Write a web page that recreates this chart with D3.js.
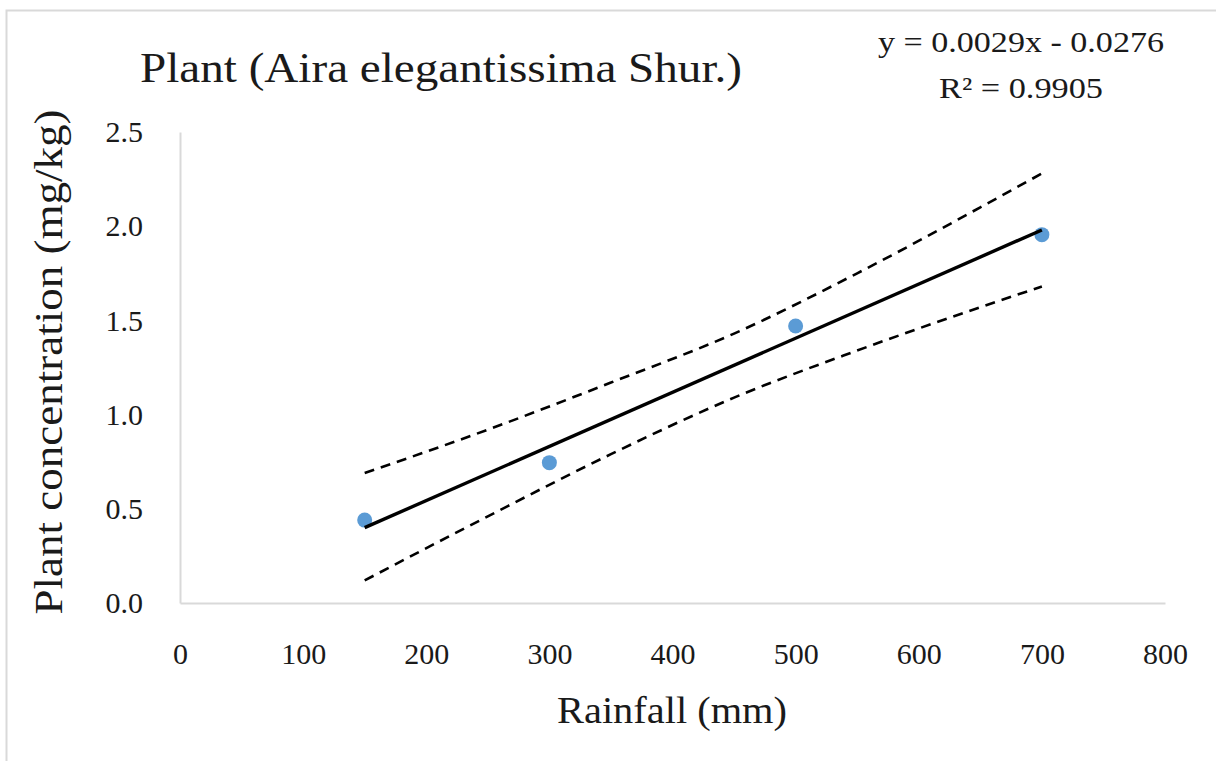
<!DOCTYPE html>
<html>
<head>
<meta charset="utf-8">
<script src="https://cdn.jsdelivr.net/npm/d3@7"></script>
<style>
  body { margin: 0; background: #fff; }
</style>
</head>
<body>
<div id="chart"></div>
<script>
    // datos
    var rainfall = [150, 300, 500, 700];
    var concentration = [0.44, 0.745, 1.47, 1.955];

    // recta de tendencia (extremos)
    var trendX = [150, 700];
    var trendY = [0.40, 1.98];

    // bandas de confianza (discontinuas)
    var bandX = [150, 250, 350, 450, 550, 650, 700];
    var bandUpper = [0.69, 0.92, 1.17, 1.43, 1.75, 2.10, 2.28];
    var bandLower = [0.12, 0.46, 0.79, 1.09, 1.34, 1.57, 1.68];

    var xTicks = [0, 100, 200, 300, 400, 500, 600, 700, 800];
    var yTicks = [0, 0.5, 1.0, 1.5, 2.0, 2.5];

    var title = "Plant (Aira elegantissima Shur.)";
    var xTitle = "Rainfall (mm)";
    var yTitle = "Plant concentration (mg/kg)";
    var eqLines = ["y = 0.0029x - 0.0276", "R\u00B2 = 0.9905"];

    var serif = "'Liberation Serif', 'DejaVu Serif', serif";
    var ink = "#1a1a1a";
    var width = 1216, height = 761;

    var svg = d3.select("#chart")
      .append("svg")
        .attr("width", width)
        .attr("height", height);

    // borde del area del grafico
    svg.append("rect")
      .attr("x", 6.5).attr("y", 10.5)
      .attr("width", width + 20).attr("height", height + 20)
      .attr("fill", "none")
      .attr("stroke", "#d9d9d9")
      .attr("stroke-width", 2);

    var x = d3.scaleLinear().domain([0, 800]).range([180, 1165]);
    var y = d3.scaleLinear().domain([0, 2.5]).range([603, 132]);

    // ejes (solo lineas grises, sin marcas)
    var xAxis = svg.append("g")
      .attr("transform", "translate(0," + y(0) + ")")
      .call(d3.axisBottom(x).tickValues(xTicks).tickSize(0).tickPadding(0).tickFormat(d3.format("d")));
    var yAxis = svg.append("g")
      .attr("transform", "translate(" + x(0) + ",0)")
      .call(d3.axisLeft(y).tickValues(yTicks).tickSize(0).tickPadding(0).tickFormat(d3.format(".1f")));

    [xAxis, yAxis].forEach(function(a) {
      a.attr("font-family", serif).attr("font-size", 30);
      a.select(".domain").attr("stroke", "#d9d9d9").attr("stroke-width", 2);
      a.selectAll("text").attr("fill", ink);
    });
    xAxis.selectAll(".tick text").attr("y", 61).attr("dy", 0);
    yAxis.selectAll(".tick text").attr("x", -37).attr("dy", "0.32em");

    // puntos
    svg.append("g").selectAll("circle")
      .data(rainfall)
      .enter().append("circle")
        .attr("cx", function(d) { return x(d); })
        .attr("cy", function(d, i) { return y(concentration[i]); })
        .attr("r", 7.5)
        .attr("fill", "#5b9bd5");

    // bandas
    var band = d3.line()
      .x(function(d, i) { return x(bandX[i]); })
      .y(function(d) { return y(d); })
      .curve(d3.curveMonotoneX);

    [bandUpper, bandLower].forEach(function(b) {
      svg.append("path")
        .datum(b)
        .attr("fill", "none")
        .attr("stroke", "#000")
        .attr("stroke-width", 2.6)
        .attr("stroke-dasharray", "10,7")
        .attr("d", band);
    });

    // linea de tendencia
    svg.append("path")
      .datum(trendY)
      .attr("fill", "none")
      .attr("stroke", "#000")
      .attr("stroke-width", 3.4)
      .attr("d", d3.line()
        .x(function(d, i) { return x(trendX[i]); })
        .y(function(d) { return y(d); }));

    // titulo
    svg.append("text")
      .attr("x", 441).attr("y", 82)
      .attr("text-anchor", "middle")
      .attr("font-family", serif)
      .attr("font-size", 42)
      .attr("fill", ink)
      .attr("textLength", 602)
      .attr("lengthAdjust", "spacingAndGlyphs")
      .text(title);

    // ecuacion
    svg.selectAll(".eq")
      .data(eqLines)
      .enter().append("text")
        .attr("class", "eq")
        .attr("x", 1021)
        .attr("y", function(d, i) { return 52 + i * 46; })
        .attr("text-anchor", "middle")
        .attr("font-family", serif)
        .attr("font-size", 30)
        .attr("fill", ink)
        .attr("textLength", function(d, i) { return i === 0 ? 286 : 164; })
        .attr("lengthAdjust", "spacingAndGlyphs")
        .text(function(d) { return d; });

    // titulos de los ejes
    svg.append("text")
      .attr("x", 672).attr("y", 723)
      .attr("text-anchor", "middle")
      .attr("font-family", serif)
      .attr("font-size", 38)
      .attr("fill", ink)
      .attr("textLength", 230)
      .attr("lengthAdjust", "spacingAndGlyphs")
      .text(xTitle);

    svg.append("text")
      .attr("transform", "translate(62,362) rotate(-90)")
      .attr("text-anchor", "middle")
      .attr("font-family", serif)
      .attr("font-size", 40)
      .attr("fill", ink)
      .attr("textLength", 505)
      .attr("lengthAdjust", "spacingAndGlyphs")
      .text(yTitle);
</script>
</body>
</html>
